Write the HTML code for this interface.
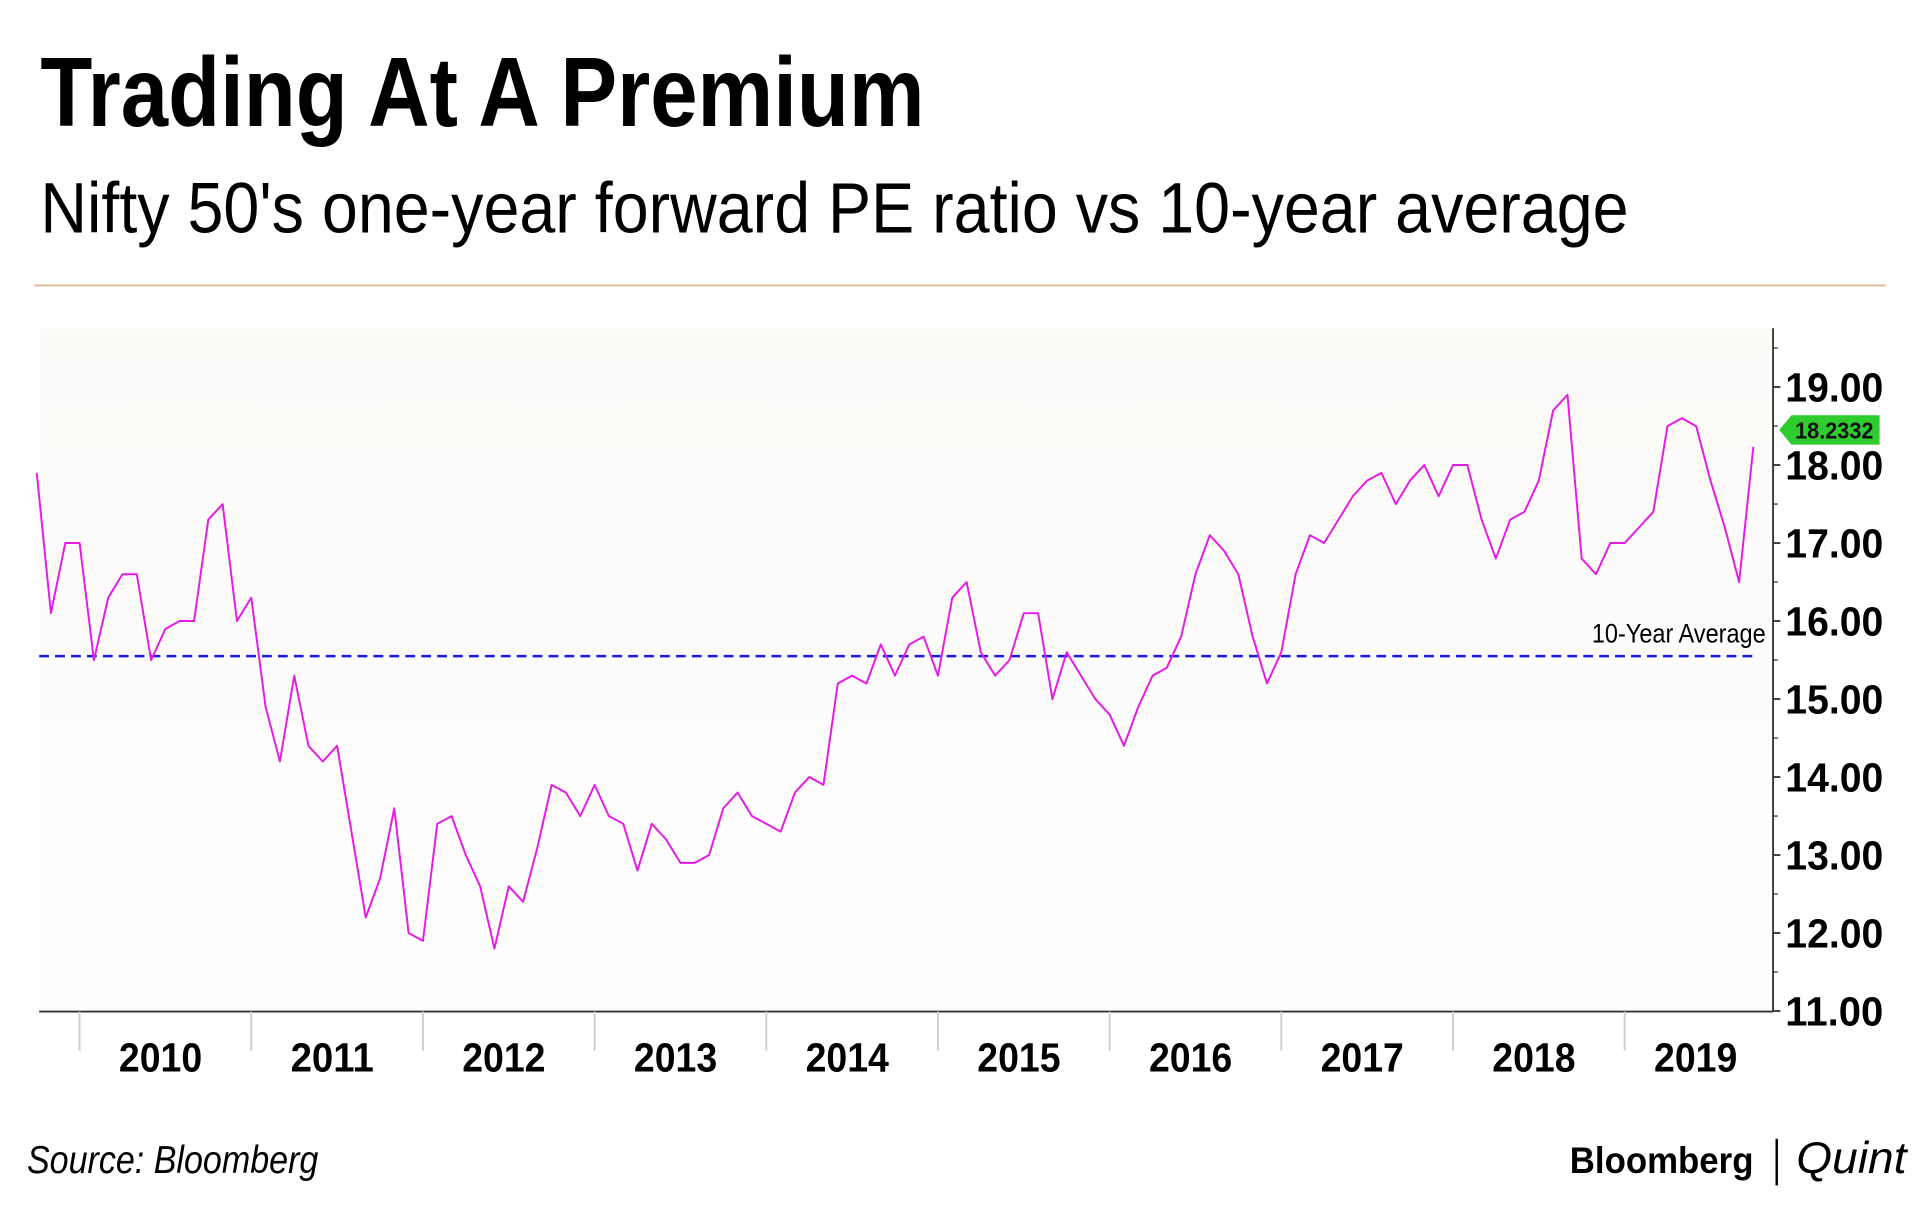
<!DOCTYPE html>
<html><head><meta charset="utf-8"><style>
html,body{margin:0;padding:0;background:#fff;}
svg{display:block;}
text{font-family:"Liberation Sans Narrow","Liberation Sans",sans-serif;}
</style></head><body>
<svg id="chart" width="1920" height="1210" viewBox="0 0 1568 988" xmlns="http://www.w3.org/2000/svg">
<defs><linearGradient id="bg" x1="0" y1="0" x2="0" y2="1"><stop offset="0" stop-color="#fbfaf7"/><stop offset="0.4" stop-color="#fdfcfb"/><stop offset="1" stop-color="#fefefe"/></linearGradient></defs>
<text x="33" y="103" font-size="80" font-weight="bold" textLength="722" lengthAdjust="spacingAndGlyphs">Trading At A Premium</text>
<text x="33" y="190" font-size="58" textLength="1297" lengthAdjust="spacingAndGlyphs">Nifty 50's one-year forward PE ratio vs 10-year average</text>
<line x1="28" y1="233" x2="1540" y2="233" stroke="#d9b894" stroke-width="1.5"/>
<rect x="32" y="268" width="1416" height="558" fill="url(#bg)"/>
<g id="xaxis"></g>
<g id="yaxis"></g>
<g id="series"></g>
<text x="22" y="958" font-size="32" font-style="italic" textLength="238" lengthAdjust="spacingAndGlyphs">Source: Bloomberg</text>
<text x="1282" y="958" font-size="30" font-weight="bold" font-family="Liberation Sans" textLength="150" lengthAdjust="spacingAndGlyphs">Bloomberg</text>
<line x1="1451" y1="930" x2="1451" y2="968" stroke="#000" stroke-width="2"/>
<text x="1467" y="958" font-size="36" font-style="italic" font-family="Liberation Serif" textLength="90" lengthAdjust="spacingAndGlyphs">Quint</text>
</svg>
<script>
const years = ["2010","2011","2012","2013","2014","2015","2016","2017","2018","2019"];
const yTicks = [11,12,13,14,15,16,17,18,19];
const startMonth = -3; // Oct 2009
const peValues = [17.9,16.1,17.0,
17.0,15.5,16.3,16.6,16.6,15.5,15.9,16.0,16.0,17.3,17.5,16.0,
16.3,14.9,14.2,15.3,14.4,14.2,14.4,13.3,12.2,12.7,13.6,12.0,
11.9,13.4,13.5,13.0,12.6,11.8,12.6,12.4,13.1,13.9,13.8,13.5,
13.9,13.5,13.4,12.8,13.4,13.2,12.9,12.9,13.0,13.6,13.8,13.5,
13.4,13.3,13.8,14.0,13.9,15.2,15.3,15.2,15.7,15.3,15.7,15.8,
15.3,16.3,16.5,15.6,15.3,15.5,16.1,16.1,15.0,15.6,15.3,15.0,
14.8,14.4,14.9,15.3,15.4,15.8,16.6,17.1,16.9,16.6,15.8,15.2,
15.6,16.6,17.1,17.0,17.3,17.6,17.8,17.9,17.5,17.8,18.0,17.6,
18.0,18.0,17.3,16.8,17.3,17.4,17.8,18.7,18.9,16.8,16.6,17.0,
17.0,17.2,17.4,18.5,18.6,18.5,17.8,17.2,16.5,18.2332];
const avgValue = [15.55];
const lastLabel = ["18.2332"];

const NS="http://www.w3.org/2000/svg";
function mk(tag,attrs,parent,txt){const e=document.createElementNS(NS,tag);for(const k in attrs)e.setAttribute(k,attrs[k]);if(txt!==undefined)e.textContent=txt;parent.appendChild(e);return e;}
const x0=65, yearW=140.2, plotL=32, plotR=1448, plotB=826;
function xScale(m){return x0+m*yearW/12;}
function yScale(v){return 316+(19-v)*63.7;}
const xa=document.getElementById('xaxis'), ya=document.getElementById('yaxis'), sg=document.getElementById('series');
const bl=mk('line',{x1:plotL,y1:plotB,x2:plotR,y2:plotB,stroke:'#333','stroke-width':1.5},xa);


years.forEach((y,i)=>{
  const xt=xScale(i*12);
  const t=mk('line',{x1:xt,y1:plotB,x2:xt,y2:plotB+32,stroke:'#ccc','stroke-width':1.5},xa);
  
  
  const lx = i<9 ? xt+yearW/2 - 4 : xt+58;
  const l=mk('text',{x:lx,y:875,'font-size':33,'font-weight':'bold','text-anchor':'middle',textLength:68,lengthAdjust:'spacingAndGlyphs'},xa,y);
  
  
});
const vl=mk('line',{x1:plotR,y1:268,x2:plotR,y2:plotB,stroke:'#333','stroke-width':1.5},ya);


yTicks.forEach((v,i)=>{
  const yy=yScale(v);
  const t=mk('line',{x1:plotR,y1:yy,x2:plotR+6,y2:yy,stroke:'#333','stroke-width':1.5},ya);
  
  
  const mt=mk('line',{x1:plotR,y1:yy-31.85,x2:plotR+4,y2:yy-31.85,stroke:'#333','stroke-width':1},ya);
  
  
  const l=mk('text',{x:1458,y:yy+12,'font-size':33,'font-weight':'bold',textLength:80,lengthAdjust:'spacingAndGlyphs'},ya,v.toFixed(2));
  
  
});
const ay=yScale(avgValue[0]);
const al=mk('line',{x1:plotL,y1:ay,x2:1432,y2:ay,stroke:'#1a1ae6','stroke-width':2,'stroke-dasharray':'8,5'},sg);


const at=mk('text',{x:1300,y:ay-11,'font-size':22,textLength:142,lengthAdjust:'spacingAndGlyphs'},sg,'10-Year Average');


const pts=peValues.map((v,i)=>xScale(startMonth+i).toFixed(1)+','+yScale(v).toFixed(1)).join(' ');
const pl=mk('polyline',{points:pts,fill:'none',stroke:'#e61ae6','stroke-width':1.6,'stroke-linejoin':'round'},sg);


const ty=351;
const tg=mk('g',{},sg);


mk('polygon',{points:`1453,${ty} 1463,${ty-12} 1535,${ty-12} 1535,${ty+12} 1463,${ty+12}`,fill:'#2ecc2e'},tg);
mk('text',{x:1466,y:ty+7,'font-size':19,'font-weight':'bold',fill:'#111',textLength:64,lengthAdjust:'spacingAndGlyphs'},tg,lastLabel[0]);
</script>
</body></html>
